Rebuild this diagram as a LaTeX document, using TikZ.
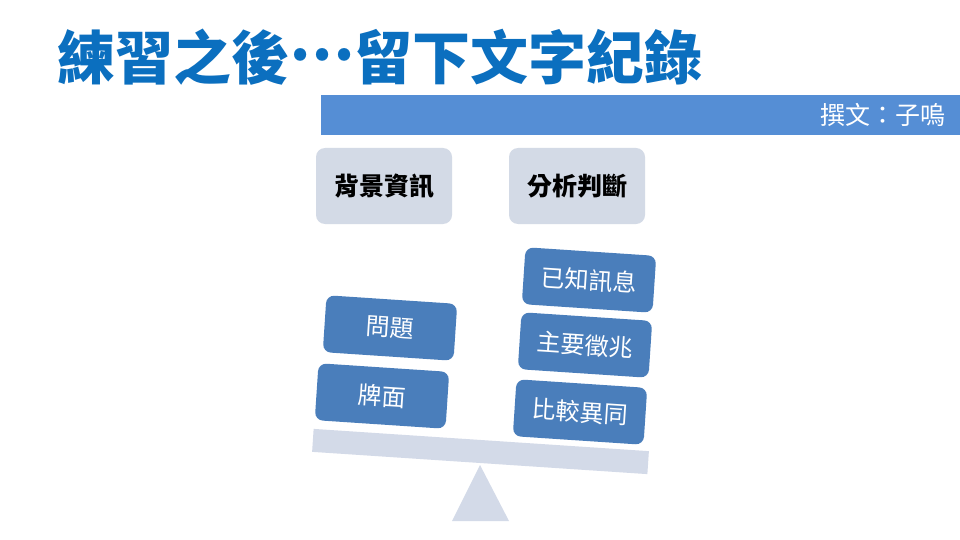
\documentclass[tikz,border=0pt]{standalone}
\usepackage{fontspec}
\newfontfamily\cjk{Noto Sans CJK TC}
\definecolor{titleblue}{HTML}{0B6FBF}
\definecolor{barblue}{HTML}{558ED5}
\definecolor{boxblue}{HTML}{4A7EBB}
\definecolor{palebox}{HTML}{D3DAE6}
\definecolor{beam}{HTML}{D3DAE8}
\tikzset{
  weight/.style={fill=boxblue, rounded corners=8pt, minimum width=131pt, minimum height=57pt,
    rotate=-3.8, text=white, font=\cjk\fontsize{24}{28}\selectfont, inner sep=0pt},
  topic/.style={fill=palebox, rounded corners=9pt, minimum width=136pt, minimum height=76pt,
    font=\cjk\bfseries\fontsize{25}{30}\selectfont, inner sep=0pt}
}
\begin{document}
\begin{tikzpicture}[x=1pt,y=-1pt]
\useasboundingbox (0,0) rectangle (960,540);
\fill[white] (0,0) rectangle (960,540);
\node[anchor=west, text=titleblue, font=\cjk\bfseries\fontsize{58}{64}\selectfont, inner sep=0pt] (title) at (57,57) {練習之後\raisebox{0.32em}{…}留下文字紀錄};
\node[fill=barblue, minimum width=639pt, minimum height=40pt, anchor=north west, inner sep=0pt] (bar) at (321,95) {};
\node[anchor=east, text=white, font=\cjk\fontsize{25}{30}\selectfont, inner sep=0pt] (author) at (946,115) {撰文：子嗚};
\node[topic] (bg) at (384,186) {背景資訊};
\node[topic] (an) at (577,186) {分析判斷};
% beam
\node[fill=beam, minimum width=336pt, minimum height=23pt, rotate=-3.8, inner sep=0pt] (plank) at (480.5,451.5) {};
\fill[beam] (480,465) -- (509,521) -- (452,521) -- cycle;
\node[weight] (q) at (390,328) {問題};
\node[weight] (p) at (382,396) {牌面};
\node[weight] (k) at (589,280) {已知訊息};
\node[weight] (s) at (585,345) {主要徵兆};
\node[weight] (c) at (580,412) {比較異同};
\end{tikzpicture}
\end{document}
